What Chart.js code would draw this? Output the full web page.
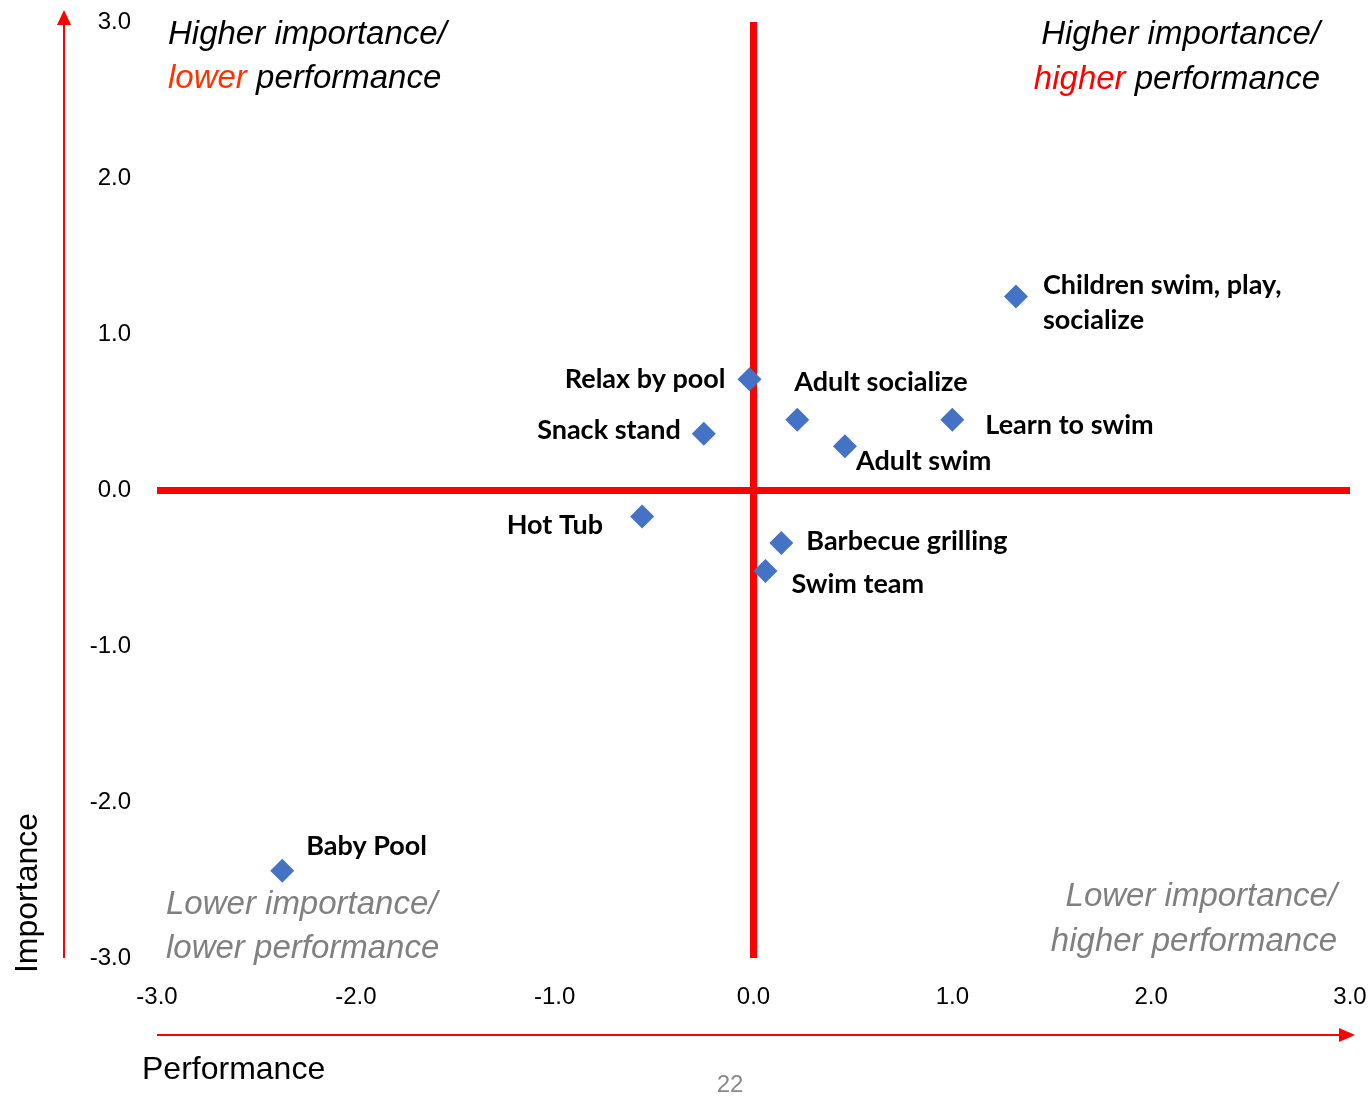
<!DOCTYPE html>
<html>
<head>
<meta charset="utf-8">
<script src="https://cdn.jsdelivr.net/npm/chart.js@4"></script>
<style>
  html, body { margin: 0; padding: 0; background: #fff; }
  #wrap { width: 1372px; height: 1099px; }
</style>
</head>
<body>
<div id="wrap"><canvas id="chart" width="1372" height="1099"></canvas></div>
<script>
const names = ['Children swim, play,\nsocialize', 'Relax by pool', 'Adult socialize', 'Learn to swim', 'Snack stand',
  'Adult swim', 'Hot Tub', 'Barbecue grilling', 'Swim team', 'Baby Pool'];
const performance = [1.32, -0.02, 0.22, 1.00, -0.25, 0.46, -0.56, 0.14, 0.06, -2.37];
const importance = [1.24, 0.71, 0.45, 0.45, 0.36, 0.28, -0.17, -0.34, -0.52, -2.44];
const tickValues = [-3, -2, -1, 0, 1, 2, 3];

// label placement relative to each marker: [dx, dy, align]
const labelOffsets = [
  [27, -11, 'left'], [-24, 0, 'right'], [-3, -38, 'left'], [33, 5, 'left'], [-23, -4, 'right'],
  [11, 15, 'left'], [-39, 9, 'right'], [25, -2, 'left'], [26, 13, 'left'], [24, -24, 'left']
];

const points = performance.map((p, i) => ({ x: p, y: importance[i] }));

const quadrantText = {
  id: 'quadrantText',
  afterDraw(chart) {
    const c = chart.ctx;
    const meta = chart.getDatasetMeta(0);
    c.save();

    // point labels
    c.font = 'bold 27px Lato, "Open Sans", sans-serif';
    c.fillStyle = '#000';
    c.textBaseline = 'middle';
    meta.data.forEach((el, i) => {
      const [dx, dy, align] = labelOffsets[i];
      c.textAlign = align;
      names[i].split('\n').forEach((line, k) => {
        c.fillText(line, el.x + dx, el.y + dy + k * 35);
      });
    });

    // quadrant captions
    c.font = 'italic 33px "Liberation Sans", Arial, sans-serif';
    c.textAlign = 'left';
    c.fillStyle = '#000';
    c.fillText('Higher importance/', 168, 35);
    c.fillStyle = '#FF3300';
    c.fillText('lower', 168, 79);
    let w = c.measureText('lower ').width;
    c.fillStyle = '#000';
    c.fillText('performance', 168 + w, 79);

    c.textAlign = 'right';
    c.fillText('Higher importance/', 1320, 35);
    c.fillText('performance', 1320, 80);
    w = c.measureText(' performance').width;
    c.fillStyle = '#FF0000';
    c.fillText('higher', 1320 - w, 80);

    c.fillStyle = '#808080';
    c.textAlign = 'left';
    c.fillText('Lower importance/', 166, 905);
    c.fillText('lower performance', 166, 949);
    c.textAlign = 'right';
    c.fillText('Lower importance/', 1337, 897);
    c.fillText('higher performance', 1337, 942);

    // axis arrows
    c.strokeStyle = '#FF0000';
    c.fillStyle = '#FF0000';
    c.lineWidth = 2;
    c.beginPath();
    c.moveTo(64, 958);
    c.lineTo(64, 22);
    c.stroke();
    c.beginPath();
    c.moveTo(64, 10);
    c.lineTo(57, 25);
    c.lineTo(71, 25);
    c.closePath();
    c.fill();

    c.beginPath();
    c.moveTo(157, 1035);
    c.lineTo(1342, 1035);
    c.stroke();
    c.beginPath();
    c.moveTo(1355, 1035);
    c.lineTo(1339, 1028);
    c.lineTo(1339, 1042);
    c.closePath();
    c.fill();

    // axis titles
    c.fillStyle = '#000';
    c.font = '32px "Liberation Sans", Arial, sans-serif';
    c.textAlign = 'left';
    c.fillText('Performance', 142, 1070);
    c.save();
    c.translate(28, 893);
    c.rotate(-Math.PI / 2);
    c.textAlign = 'center';
    c.fillText('Importance', 0, 0);
    c.restore();

    c.fillStyle = '#898989';
    c.font = '24px "Liberation Sans", Arial, sans-serif';
    c.textAlign = 'center';
    c.fillText('22', 730, 1085);
    c.restore();
  }
};

const zeroLine = {
  color: ctx => ctx.tick && ctx.tick.value === 0 ? '#FF0000' : 'rgba(0,0,0,0)',
  lineWidth: ctx => ctx.tick && ctx.tick.value === 0 ? 7 : 0,
  drawTicks: false
};

const tickFont = { family: '"Liberation Sans", Arial, sans-serif', size: 24 };

new Chart(document.getElementById('chart'), {
  type: 'scatter',
  data: {
    datasets: [{
      data: points,
      pointStyle: 'rectRot',
      pointRadius: 12,
      pointHoverRadius: 12,
      backgroundColor: '#4472C4',
      borderWidth: 0
    }]
  },
  options: {
    responsive: false,
    animation: false,
    layout: { padding: { left: 0, right: 22, top: 22, bottom: 0 } },
    plugins: { legend: { display: false }, tooltip: { enabled: false } },
    scales: {
      x: {
        type: 'linear', min: -3, max: 3,
        afterFit: s => { s.height = 141; s.paddingLeft = 0; s.paddingRight = 0; },
        afterBuildTicks: s => { s.ticks = tickValues.map(v => ({ value: v })); },
        border: { display: false },
        grid: zeroLine,
        ticks: {
          padding: 25,
          color: '#000',
          font: tickFont,
          callback: v => v.toFixed(1)
        }
      },
      y: {
        type: 'linear', min: -3, max: 3,
        afterFit: s => { s.width = 157; s.paddingTop = 0; s.paddingBottom = 0; },
        afterBuildTicks: s => { s.ticks = tickValues.map(v => ({ value: v })); },
        border: { display: false },
        grid: zeroLine,
        ticks: {
          padding: 26,
          color: '#000',
          font: tickFont,
          callback: v => v.toFixed(1)
        }
      }
    }
  },
  plugins: [quadrantText]
});
</script>
</body>
</html>
